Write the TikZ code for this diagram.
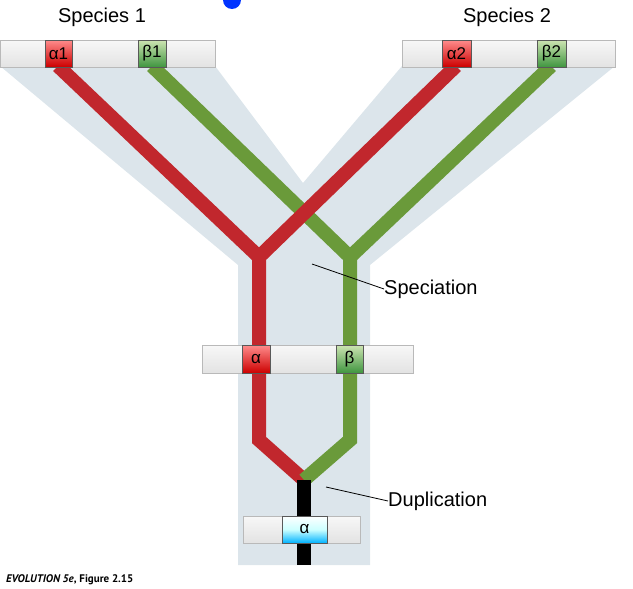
\documentclass[tikz,border=0pt]{standalone}
\usepackage{fontspec}
\setmainfont{Liberation Sans}
\newfontfamily\capfont{PT Sans}
\begin{document}
\begin{tikzpicture}[x=1pt,y=-1pt,
  chrom/.style={draw=gray!55,top color=gray!6,bottom color=gray!22,line width=0.6pt},
  gbox/.style={draw=gray!70!black,line width=0.5pt,minimum height=27pt,inner sep=0pt,font=\fontsize{17}{17}\selectfont},
  redbox/.style={gbox,top color=red!45!white,bottom color=red!80!black},
  greenbox/.style={gbox,top color=green!30!olive!30!white,bottom color=green!45!black!75},
  bluebox/.style={gbox,top color=white,bottom color=cyan!70!blue,middle color=cyan!20},
  gene/.style={line width=14pt,line join=miter},
  lbl/.style={font=\fontsize{20}{20}\selectfont,anchor=west,inner sep=0pt},
  lead/.style={line width=0.8pt}]
\definecolor{rl}{HTML}{C1272D}
\definecolor{gl}{HTML}{6A9A3A}
\definecolor{bg}{HTML}{DCE5EB}
\useasboundingbox (0,0) rectangle (633,589);
\fill[blue!80!cyan] (232,0) circle (9);
% background band
\fill[bg] (0,66) -- (215,66) -- (303,183) -- (402,66) -- (615,66) -- (370,265) -- (370,565) -- (238,565) -- (238,265) -- cycle;
% chromosomes
\draw[chrom] (0,40) rectangle (215,67);
\draw[chrom] (402,40) rectangle (615,67);
\draw[chrom] (202,345) rectangle (413,373);
\draw[chrom] (243,516) rectangle (360,543);
% genes lines
\coordinate (a1) at (58,66); \coordinate (b1) at (152,66);
\coordinate (a2) at (456,66); \coordinate (b2) at (551,66);
\coordinate (ra) at (259,257); \coordinate (gb) at (350,257);
\coordinate (rd) at (259,440); \coordinate (gd) at (350,440);
\coordinate (dup) at (304,480); \coordinate (bot) at (304,565);
\draw[gene,rl] (a1) -- (ra) -- (rd) -- (dup);
\draw[gene,gl] (b2) -- (gb) -- (gd) -- (dup);
\draw[gene,gl] (b1) -- (gb);
\draw[gene,rl] (a2) -- (ra);
\draw[line width=14pt,black] (dup) -- (bot);
% boxes
\node[redbox,minimum width=27pt] (A1) at (58.5,53.5) {α1};
\node[greenbox,minimum width=28pt] (B1) at (152,53.5) {β1};
\node[redbox,minimum width=29pt] (A2) at (456.5,53.5) {α2};
\node[greenbox,minimum width=29pt] (B2) at (551.5,53.5) {β2};
\node[redbox,minimum width=28pt,minimum height=28pt] (A) at (256,359) {α};
\node[greenbox,minimum width=27pt,minimum height=28pt] (B) at (349.5,359) {β};
\node[bluebox,minimum width=45pt] (AB) at (304.5,529.5) {α};
% labels
\node[font=\fontsize{20}{20}\selectfont] (s1) at (102,17) {Species 1};
\node[font=\fontsize{20}{20}\selectfont] (s2) at (507,17) {Species 2};
\node[lbl] (sp) at (384,289) {Speciation};
\node[lbl] (du) at (388,501) {Duplication};
\coordinate (spp) at (312,264); \coordinate (dpp) at (326,487);
\draw[lead] (spp) -- (sp.west);
\draw[lead] (dpp) -- (du.west);
\node[anchor=west,inner sep=0pt,font=\fontsize{11}{11}\selectfont\capfont\bfseries] (cap) at (6,580) {\textit{EVOLUTION 5e}, Figure 2.15};
\end{tikzpicture}
\end{document}
